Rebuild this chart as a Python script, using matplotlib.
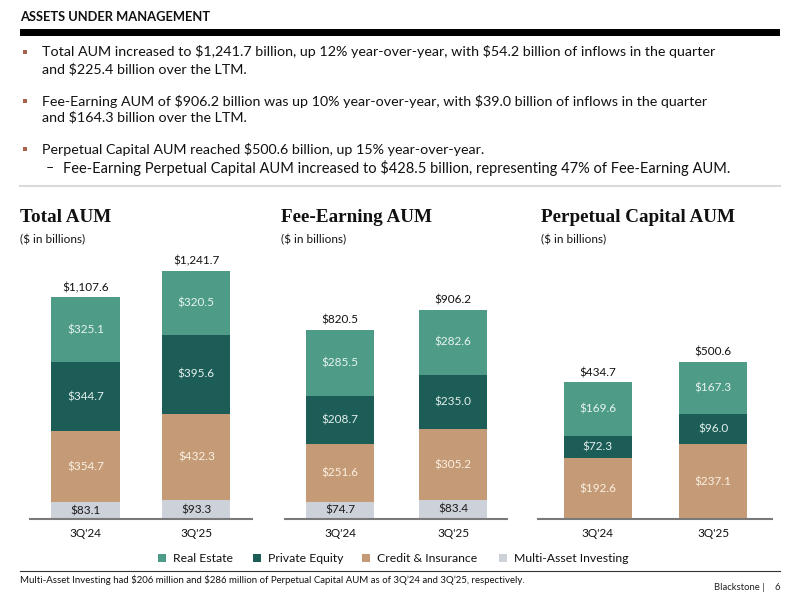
import matplotlib
matplotlib.use("Agg")
import matplotlib.pyplot as plt
from matplotlib.patches import Rectangle
from matplotlib.lines import Line2D

plt.rcParams["text.parse_math"] = False

# ---- data ----
periods = ["3Q'24", "3Q'25"]
segments = ["Multi-Asset Investing", "Credit & Insurance", "Private Equity", "Real Estate"]
total_aum = {
    "Multi-Asset Investing": [83.1, 93.3],
    "Credit & Insurance": [354.7, 432.3],
    "Private Equity": [344.7, 395.6],
    "Real Estate": [325.1, 320.5],
}
total_aum_sum = [1107.6, 1241.7]
fee_aum = {
    "Multi-Asset Investing": [74.7, 83.4],
    "Credit & Insurance": [251.6, 305.2],
    "Private Equity": [208.7, 235.0],
    "Real Estate": [285.5, 282.6],
}
fee_aum_sum = [820.5, 906.2]
perp_aum = {
    "Multi-Asset Investing": [0.2, 0.3],
    "Credit & Insurance": [192.6, 237.1],
    "Private Equity": [72.3, 96.0],
    "Real Estate": [169.6, 167.3],
}
perp_aum_sum = [434.7, 500.6]
legend_order = ["Real Estate", "Private Equity", "Credit & Insurance", "Multi-Asset Investing"]

colors = {
    "Real Estate": "#4E9C88",
    "Private Equity": "#1C5D57",
    "Credit & Insurance": "#C49B76",
    "Multi-Asset Investing": "#CDD1DA",
}
label_colors = {
    "Real Estate": "#E8F4EF",
    "Private Equity": "#E6F0EE",
    "Credit & Insurance": "#FBF0E2",
    "Multi-Asset Investing": "#1A1A1A",
}

BODY = ["Lato", "DejaVu Sans"]
SERIF = ["Liberation Serif", "DejaVu Serif"]

fig = plt.figure(figsize=(8, 6), dpi=100)
fig.patch.set_facecolor("white")

def fx(x):
    return x / 800.0

def fy(y):
    return 1 - y / 600.0

# header
fig.text(fx(20), fy(17), "ASSETS UNDER MANAGEMENT", fontsize=9.3, fontweight="bold",
         family=BODY, color="#111111", va="center", ha="left")
fig.add_artist(Rectangle((fx(20), fy(36)), fx(760), 7 / 600, transform=fig.transFigure,
                         color="black", lw=0))

BFS = 10.3
bullets = [
    (52, "Total AUM increased to $1,241.7 billion, up 12% year-over-year, with $54.2 billion of inflows in the quarter", True),
    (69, "and $225.4 billion over the LTM.", False),
    (101, "Fee-Earning AUM of $906.2 billion was up 10% year-over-year, with $39.0 billion of inflows in the quarter", True),
    (117, "and $164.3 billion over the LTM.", False),
    (149, "Perpetual Capital AUM reached $500.6 billion, up 15% year-over-year.", True),
]
for y, txt, mark in bullets:
    if mark:
        fig.add_artist(Rectangle((fx(22.5), fy(y + 2)), 4.5 / 800, 4.5 / 600,
                                 transform=fig.transFigure, color="#A8614F", lw=0))
    fig.text(fx(42), fy(y), txt, fontsize=BFS, family=BODY, color="#111111",
             va="center", ha="left")
fig.text(fx(46), fy(168), "–", fontsize=BFS, family=BODY, color="#111111", va="center")
fig.text(fx(63), fy(168), "Fee-Earning Perpetual Capital AUM increased to $428.5 billion, representing 47% of Fee-Earning AUM.",
         fontsize=BFS + 0.2, family=BODY, color="#111111", va="center", ha="left")
fig.add_artist(Line2D([fx(20), fx(780)], [fy(186), fy(186)], transform=fig.transFigure,
                      color="#DADADA", lw=1.5))

# panels: (title, data, sums, title-x px, axis-left px, axis-right px, px per unit)
panels = [
    ("Total AUM", total_aum, total_aum_sum, 20, 30, 252, 0.2001),
    ("Fee-Earning AUM", fee_aum, fee_aum_sum, 281, 285, 507, 0.2308),
    ("Perpetual Capital AUM", perp_aum, perp_aum_sum, 541, 538, 772, 0.3145),
]
baseline = 519
top_px = 250
centers_px = [(85.5, 196.3), (340.0, 453.2), (597.8, 713.0)]
bar_px = 68

for (title, data, sums, tx, xl, xr, scale), (c0, c1) in zip(panels, centers_px):
    fig.text(fx(tx), fy(218), title, fontsize=13.8, fontweight="bold", family=SERIF,
             color="#111111", va="center", ha="left")
    fig.text(fx(tx), fy(240), "($ in billions)", fontsize=8.5, family=BODY,
             color="#111111", va="center", ha="left")
    ax = fig.add_axes([fx(xl), fy(baseline), (xr - xl) / 800, (baseline - top_px) / 600])
    unit = c1 - c0
    ax.set_xlim(-(c0 - xl) / unit, 1 + (xr - c1) / unit)
    ax.set_ylim(0, (baseline - top_px) / scale)
    width = bar_px / unit
    x = [0, 1]
    bottoms = [0.0, 0.0]
    for seg in segments:
        vals = data[seg]
        ax.bar(x, vals, width=width, bottom=bottoms, color=colors[seg], lw=0, zorder=2)
        for i, v in enumerate(vals):
            if v >= 20:
                ax.text(x[i], bottoms[i] + v / 2, f"${v:,.1f}", ha="center", va="center",
                        fontsize=8.5, family=BODY, color=label_colors[seg], zorder=3)
        bottoms = [b + v for b, v in zip(bottoms, vals)]
    for i, s in enumerate(sums):
        ax.annotate(f"${s:,.1f}", (x[i], bottoms[i]), xytext=(0, 7), textcoords="offset points",
                    ha="center", va="center", fontsize=8.5, family=BODY, color="#111111")
    for sp in ["top", "right", "left"]:
        ax.spines[sp].set_visible(False)
    ax.spines["bottom"].set_color("#7A7A7A")
    ax.spines["bottom"].set_linewidth(1.5)
    ax.set_yticks([])
    ax.set_xticks(x)
    ax.set_xticklabels(periods, fontsize=8.5, family=BODY, color="#111111")
    ax.tick_params(axis="x", length=0, pad=6.5)
    ax.set_facecolor("none")

# legend
leg_items = [(162, "Real Estate"), (257, "Private Equity"), (366, "Credit & Insurance"),
             (503, "Multi-Asset Investing")]
for xp, name in leg_items:
    fig.add_artist(Rectangle((fx(xp - 4), fy(562)), 8 / 800, 8 / 600, transform=fig.transFigure,
                             color=colors[name], lw=0))
    fig.text(fx(xp + 11), fy(558), name, fontsize=8.8, family=BODY, color="#111111",
             va="center", ha="left")

fig.add_artist(Line2D([fx(20), fx(780)], [fy(571), fy(571)], transform=fig.transFigure,
                      color="#333333", lw=0.8))
fig.text(fx(20), fy(580), "Multi-Asset Investing had $206 million and $286 million of Perpetual Capital AUM as of 3Q’24 and 3Q’25, respectively.",
         fontsize=6.9, family=BODY, color="#111111", va="center", ha="left")
fig.text(fx(765), fy(587), "Blackstone |", fontsize=6.8, family=BODY, color="#222222",
         va="center", ha="right")
fig.text(fx(780), fy(587), "6", fontsize=6.8, family=BODY, color="#222222",
         va="center", ha="right")

fig.savefig("out.png", dpi=100)
